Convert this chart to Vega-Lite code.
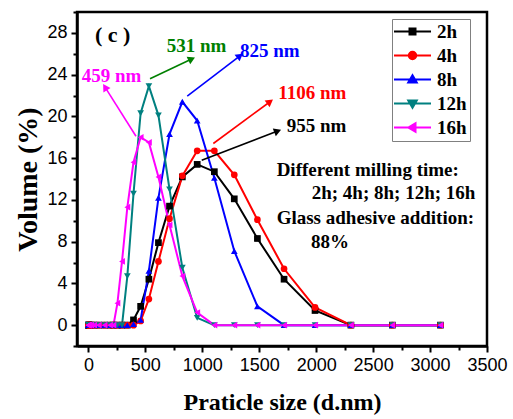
{
  "$schema": "https://vega.github.io/schema/vega-lite/v6.json",
  "width": 410,
  "height": 334,
  "autosize": {"type": "none"},
  "padding": {"left": 77, "top": 12, "right": 26, "bottom": 73},
  "background": "white",
  "config": {
    "view": {"stroke": "black", "strokeWidth": 2.5},
    "axis": {
      "domainColor": "black",
      "domainWidth": 2.5,
      "tickColor": "black",
      "tickWidth": 2,
      "grid": false
    },
    "legend": {
      "strokeColor": "#808080",
      "strokeWidth": 1,
      "fillColor": "white",
      "padding": 3,
      "rowPadding": 4,
      "labelFont": "Liberation Serif",
      "labelFontWeight": "bold",
      "labelFontSize": 19,
      "labelColor": "black",
      "labelLimit": 34,
      "symbolOffset": 8,
      "labelOffset": 15,
      "symbolStrokeWidth": 2,
      "symbolOpacity": 1
    },
    "text": {"font": "Liberation Serif", "fontWeight": "bold"}
  },
  "datasets": {
    "psd": [
      {"series": "2h", "size_nm": 0.4, "volume": 0}, {"series": "2h", "size_nm": 1.117, "volume": 0}, {"series": "2h", "size_nm": 3.122, "volume": 0}, {"series": "2h", "size_nm": 8.721, "volume": 0}, {"series": "2h", "size_nm": 24.36, "volume": 0}, {"series": "2h", "size_nm": 50.75, "volume": 0}, {"series": "2h", "size_nm": 91.28, "volume": 0}, {"series": "2h", "size_nm": 141.8, "volume": 0}, {"series": "2h", "size_nm": 190.1, "volume": 0}, {"series": "2h", "size_nm": 220.2, "volume": 0}, {"series": "2h", "size_nm": 255.0, "volume": 0}, {"series": "2h", "size_nm": 295.3, "volume": 0}, {"series": "2h", "size_nm": 342.0, "volume": 0}, {"series": "2h", "size_nm": 396.1, "volume": 0.5}, {"series": "2h", "size_nm": 458.7, "volume": 1.8}, {"series": "2h", "size_nm": 531.2, "volume": 4.4}, {"series": "2h", "size_nm": 615.1, "volume": 7.9}, {"series": "2h", "size_nm": 712.4, "volume": 11.4}, {"series": "2h", "size_nm": 825.0, "volume": 14.2}, {"series": "2h", "size_nm": 955.4, "volume": 15.4}, {"series": "2h", "size_nm": 1106, "volume": 14.7}, {"series": "2h", "size_nm": 1281, "volume": 12.1}, {"series": "2h", "size_nm": 1484, "volume": 8.3}, {"series": "2h", "size_nm": 1718, "volume": 4.4}, {"series": "2h", "size_nm": 1990, "volume": 1.4}, {"series": "2h", "size_nm": 2305, "volume": 0}, {"series": "2h", "size_nm": 2669, "volume": 0}, {"series": "2h", "size_nm": 3091, "volume": 0},
      {"series": "4h", "size_nm": 0.4, "volume": 0}, {"series": "4h", "size_nm": 1.117, "volume": 0}, {"series": "4h", "size_nm": 3.122, "volume": 0}, {"series": "4h", "size_nm": 8.721, "volume": 0}, {"series": "4h", "size_nm": 24.36, "volume": 0}, {"series": "4h", "size_nm": 50.75, "volume": 0}, {"series": "4h", "size_nm": 91.28, "volume": 0}, {"series": "4h", "size_nm": 141.8, "volume": 0}, {"series": "4h", "size_nm": 190.1, "volume": 0}, {"series": "4h", "size_nm": 220.2, "volume": 0}, {"series": "4h", "size_nm": 255.0, "volume": 0}, {"series": "4h", "size_nm": 295.3, "volume": 0}, {"series": "4h", "size_nm": 342.0, "volume": 0}, {"series": "4h", "size_nm": 396.1, "volume": 0}, {"series": "4h", "size_nm": 458.7, "volume": 0.4}, {"series": "4h", "size_nm": 531.2, "volume": 2.5}, {"series": "4h", "size_nm": 615.1, "volume": 6.1}, {"series": "4h", "size_nm": 712.4, "volume": 10.2}, {"series": "4h", "size_nm": 825.0, "volume": 14.3}, {"series": "4h", "size_nm": 955.4, "volume": 16.7}, {"series": "4h", "size_nm": 1106, "volume": 16.7}, {"series": "4h", "size_nm": 1281, "volume": 14.4}, {"series": "4h", "size_nm": 1484, "volume": 10.1}, {"series": "4h", "size_nm": 1718, "volume": 5.4}, {"series": "4h", "size_nm": 1990, "volume": 1.7}, {"series": "4h", "size_nm": 2305, "volume": 0}, {"series": "4h", "size_nm": 2669, "volume": 0}, {"series": "4h", "size_nm": 3091, "volume": 0},
      {"series": "8h", "size_nm": 0.4, "volume": 0}, {"series": "8h", "size_nm": 1.117, "volume": 0}, {"series": "8h", "size_nm": 3.122, "volume": 0}, {"series": "8h", "size_nm": 8.721, "volume": 0}, {"series": "8h", "size_nm": 24.36, "volume": 0}, {"series": "8h", "size_nm": 50.75, "volume": 0}, {"series": "8h", "size_nm": 91.28, "volume": 0}, {"series": "8h", "size_nm": 141.8, "volume": 0}, {"series": "8h", "size_nm": 190.1, "volume": 0}, {"series": "8h", "size_nm": 220.2, "volume": 0}, {"series": "8h", "size_nm": 255.0, "volume": 0}, {"series": "8h", "size_nm": 295.3, "volume": 0}, {"series": "8h", "size_nm": 342.0, "volume": 0}, {"series": "8h", "size_nm": 396.1, "volume": 0.1}, {"series": "8h", "size_nm": 458.7, "volume": 0.5}, {"series": "8h", "size_nm": 531.2, "volume": 5.2}, {"series": "8h", "size_nm": 615.1, "volume": 12.2}, {"series": "8h", "size_nm": 712.4, "volume": 18.3}, {"series": "8h", "size_nm": 825.0, "volume": 21.4}, {"series": "8h", "size_nm": 955.4, "volume": 19.6}, {"series": "8h", "size_nm": 1106, "volume": 14.1}, {"series": "8h", "size_nm": 1281, "volume": 7.1}, {"series": "8h", "size_nm": 1484, "volume": 1.8}, {"series": "8h", "size_nm": 1718, "volume": 0}, {"series": "8h", "size_nm": 1990, "volume": 0}, {"series": "8h", "size_nm": 2305, "volume": 0}, {"series": "8h", "size_nm": 2669, "volume": 0}, {"series": "8h", "size_nm": 3091, "volume": 0},
      {"series": "12h", "size_nm": 0.4, "volume": 0}, {"series": "12h", "size_nm": 1.117, "volume": 0}, {"series": "12h", "size_nm": 3.122, "volume": 0}, {"series": "12h", "size_nm": 8.721, "volume": 0}, {"series": "12h", "size_nm": 24.36, "volume": 0}, {"series": "12h", "size_nm": 50.75, "volume": 0}, {"series": "12h", "size_nm": 91.28, "volume": 0}, {"series": "12h", "size_nm": 141.8, "volume": 0}, {"series": "12h", "size_nm": 190.1, "volume": 0}, {"series": "12h", "size_nm": 220.2, "volume": 0}, {"series": "12h", "size_nm": 255.0, "volume": 0}, {"series": "12h", "size_nm": 295.3, "volume": 0}, {"series": "12h", "size_nm": 342.0, "volume": 4.7}, {"series": "12h", "size_nm": 396.1, "volume": 12.6}, {"series": "12h", "size_nm": 458.7, "volume": 20.3}, {"series": "12h", "size_nm": 531.2, "volume": 22.9}, {"series": "12h", "size_nm": 615.1, "volume": 20.1}, {"series": "12h", "size_nm": 712.4, "volume": 13.0}, {"series": "12h", "size_nm": 825.0, "volume": 5.5}, {"series": "12h", "size_nm": 955.4, "volume": 0.7}, {"series": "12h", "size_nm": 1106, "volume": 0}, {"series": "12h", "size_nm": 1281, "volume": 0}, {"series": "12h", "size_nm": 1484, "volume": 0}, {"series": "12h", "size_nm": 1718, "volume": 0}, {"series": "12h", "size_nm": 1990, "volume": 0}, {"series": "12h", "size_nm": 2305, "volume": 0}, {"series": "12h", "size_nm": 2669, "volume": 0}, {"series": "12h", "size_nm": 3091, "volume": 0},
      {"series": "16h", "size_nm": 0.4, "volume": 0}, {"series": "16h", "size_nm": 1.117, "volume": 0}, {"series": "16h", "size_nm": 3.122, "volume": 0}, {"series": "16h", "size_nm": 8.721, "volume": 0}, {"series": "16h", "size_nm": 24.36, "volume": 0}, {"series": "16h", "size_nm": 50.75, "volume": 0}, {"series": "16h", "size_nm": 91.28, "volume": 0}, {"series": "16h", "size_nm": 141.8, "volume": 0}, {"series": "16h", "size_nm": 190.1, "volume": 0}, {"series": "16h", "size_nm": 220.2, "volume": 0}, {"series": "16h", "size_nm": 255.0, "volume": 2.1}, {"series": "16h", "size_nm": 295.3, "volume": 6.1}, {"series": "16h", "size_nm": 342.0, "volume": 11.3}, {"series": "16h", "size_nm": 396.1, "volume": 15.6}, {"series": "16h", "size_nm": 458.7, "volume": 18.0}, {"series": "16h", "size_nm": 531.2, "volume": 17.5}, {"series": "16h", "size_nm": 615.1, "volume": 14.2}, {"series": "16h", "size_nm": 712.4, "volume": 9.6}, {"series": "16h", "size_nm": 825.0, "volume": 4.7}, {"series": "16h", "size_nm": 955.4, "volume": 1.2}, {"series": "16h", "size_nm": 1106, "volume": 0}, {"series": "16h", "size_nm": 1281, "volume": 0}, {"series": "16h", "size_nm": 1484, "volume": 0}, {"series": "16h", "size_nm": 1718, "volume": 0}, {"series": "16h", "size_nm": 1990, "volume": 0}, {"series": "16h", "size_nm": 2305, "volume": 0}, {"series": "16h", "size_nm": 2669, "volume": 0}, {"series": "16h", "size_nm": 3091, "volume": 0}
    ],
    "arrows": [
      {"series": "12h", "x": 541, "y": 23.6, "x2": 907, "y2": 25.5},
      {"series": "8h", "x": 868, "y": 21.95, "x2": 1331, "y2": 25.8},
      {"series": "16h", "x": 418, "y": 18.1, "x2": 146, "y2": 22.8},
      {"series": "4h", "x": 1097, "y": 17.4, "x2": 1595, "y2": 21.4},
      {"series": "2h", "x": 995, "y": 15.8, "x2": 1662, "y2": 18.6}
    ],
    "notes": [
      {"series": "12h", "x": 688, "y": 26.7, "note": "531 nm"},
      {"series": "8h", "x": 1331, "y": 26.3, "note": "825 nm"},
      {"series": "16h", "x": -59, "y": 23.9, "note": "459 nm"},
      {"series": "4h", "x": 1667, "y": 22.2, "note": "1106 nm"},
      {"series": "2h", "x": 1741, "y": 19.1, "note": "955 nm"},
      {"series": "all", "x": 1653, "y": 14.86, "note": "Different milling time:"},
      {"series": "all", "x": 1961, "y": 12.7, "note": "2h; 4h; 8h; 12h; 16h"},
      {"series": "all", "x": 1653, "y": 10.23, "note": "Glass adhesive addition:"},
      {"series": "all", "x": 1955, "y": 8.0, "note": "88%"}
    ],
    "panel": [
      {"x": 58, "y": 27.8, "note": "( c )"}
    ]
  },
  "layer": [
    {
      "data": {"name": "psd"},
      "mark": {"type": "line", "strokeWidth": 2},
      "encoding": {
        "x": {
          "field": "size_nm", "type": "quantitative",
          "scale": {"domain": [-100, 3500], "nice": false, "zero": false},
          "axis": {
            "orient": "bottom", "values": [0, 500, 1000, 1500, 2000, 2500, 3000, 3500], "format": "d",
            "labelOverlap": false, "labelFlush": false, "tickSize": 6, "labelPadding": 4,
            "labelFont": "Liberation Sans", "labelFontSize": 18, "labelColor": "black",
            "title": "Praticle size (d.nm)", "titleFont": "Liberation Serif", "titleFontWeight": "bold",
            "titleFontSize": 24, "titleColor": "black", "titlePadding": 16
          }
        },
        "y": {
          "field": "volume", "type": "quantitative",
          "scale": {"domain": [-2, 30], "nice": false, "zero": false},
          "axis": {
            "orient": "left", "values": [0, 4, 8, 12, 16, 20, 24, 28], "format": "d",
            "labelOverlap": false, "labelFlush": false, "tickSize": 6, "labelPadding": 4,
            "labelFont": "Liberation Sans", "labelFontSize": 18, "labelColor": "black",
            "title": "Volume (%)", "titleFont": "Liberation Serif", "titleFontWeight": "bold",
            "titleFontSize": 28, "titleColor": "black", "titlePadding": 4
          }
        },
        "color": {
          "field": "series", "type": "nominal",
          "scale": {"domain": ["2h", "4h", "8h", "12h", "16h"], "range": ["#000000", "#ff0000", "#0000ff", "#008080", "#ff00ff"]},
          "legend": null
        }
      }
    },
    {
      "data": {"name": "psd"},
      "mark": {"type": "point", "filled": true, "size": 45, "opacity": 1},
      "encoding": {
        "x": {
          "field": "size_nm", "type": "quantitative",
          "axis": {"orient": "bottom", "values": [250, 750, 1250, 1750, 2250, 2750, 3250], "tickSize": 4, "labels": false, "domain": false, "title": null}
        },
        "y": {
          "field": "volume", "type": "quantitative",
          "axis": {"orient": "left", "values": [-2, 2, 6, 10, 14, 18, 22, 26, 30], "tickSize": 4, "labels": false, "domain": false, "title": null}
        },
        "color": {"field": "series", "type": "nominal", "legend": null},
        "shape": {
          "field": "series", "type": "nominal",
          "scale": {"domain": ["2h", "4h", "8h", "12h", "16h"], "range": ["square", "circle", "triangle-up", "triangle-down", "triangle-left"]},
          "legend": null
        }
      }
    },
    {
      "data": {"name": "psd"},
      "transform": [{"filter": "datum.size_nm == 3091"}],
      "mark": {"type": "point", "filled": true, "size": 100, "opacity": 0, "strokeWidth": 2},
      "encoding": {
        "x": {"field": "size_nm", "type": "quantitative", "axis": null},
        "y": {"field": "volume", "type": "quantitative", "axis": null},
        "shape": {
          "field": "series", "type": "nominal",
          "scale": {
            "domain": ["2h", "4h", "8h", "12h", "16h"],
            "range": [
              "M-3.7,0H3.7M-0.6,-0.6H0.6V0.6H-0.6Z",
              "M-3.7,0H3.7M0.75,0A0.75,0.75,0,1,1,-0.75,0A0.75,0.75,0,1,1,0.75,0Z",
              "M-3.7,0H3.7M0,-0.85L0.85,0.6H-0.85Z",
              "M-3.7,0H3.7M0,0.85L0.85,-0.6H-0.85Z",
              "M-3.7,0H3.7M-0.85,0L0.6,-0.85V0.85Z"
            ]
          },
          "legend": {"title": null, "orient": "none", "legendX": 315, "legendY": 7}
        },
        "fill": {
          "field": "series", "type": "nominal",
          "scale": {"domain": ["2h", "4h", "8h", "12h", "16h"], "range": ["#000000", "#ff0000", "#0000ff", "#008080", "#ff00ff"]},
          "legend": {"title": null, "orient": "none", "legendX": 315, "legendY": 7}
        },
        "stroke": {
          "field": "series", "type": "nominal",
          "scale": {"domain": ["2h", "4h", "8h", "12h", "16h"], "range": ["#000000", "#ff0000", "#0000ff", "#008080", "#ff00ff"]},
          "legend": {"title": null, "orient": "none", "legendX": 315, "legendY": 7}
        }
      }
    },
    {
      "data": {"name": "arrows"},
      "mark": {"type": "rule", "strokeWidth": 1.6},
      "encoding": {
        "x": {"field": "x", "type": "quantitative", "axis": null},
        "y": {"field": "y", "type": "quantitative", "axis": null},
        "x2": {"field": "x2"},
        "y2": {"field": "y2"},
        "stroke": {
          "field": "series", "type": "nominal",
          "scale": {"domain": ["2h", "4h", "8h", "12h", "16h", "all"], "range": ["#000000", "#ff0000", "#0000ff", "#008000", "#ff00ff", "#000000"]},
          "legend": null
        }
      }
    },
    {
      "data": {"name": "arrows"},
      "transform": [
        {"calculate": "atan2((datum.x2 - datum.x) * 0.11389, (datum.y2 - datum.y) * 10.4375) * 180 / PI", "as": "heading"}
      ],
      "mark": {"type": "point", "shape": "triangle-up", "filled": true, "size": 70, "opacity": 1},
      "encoding": {
        "x": {"field": "x2", "type": "quantitative", "axis": null},
        "y": {"field": "y2", "type": "quantitative", "axis": null},
        "angle": {"field": "heading", "type": "quantitative", "scale": null},
        "fill": {
          "field": "series", "type": "nominal",
          "scale": {"domain": ["2h", "4h", "8h", "12h", "16h", "all"], "range": ["#000000", "#ff0000", "#0000ff", "#008000", "#ff00ff", "#000000"]},
          "legend": null
        }
      }
    },
    {
      "data": {"name": "notes"},
      "mark": {"type": "text", "align": "left", "baseline": "middle", "fontSize": 19, "font": "Liberation Serif", "fontWeight": "bold"},
      "encoding": {
        "x": {"field": "x", "type": "quantitative", "axis": null},
        "y": {"field": "y", "type": "quantitative", "axis": null},
        "text": {"field": "note"},
        "fill": {
          "field": "series", "type": "nominal",
          "scale": {"domain": ["2h", "4h", "8h", "12h", "16h", "all"], "range": ["#000000", "#ff0000", "#0000ff", "#008000", "#ff00ff", "#000000"]},
          "legend": null
        }
      }
    },
    {
      "data": {"name": "panel"},
      "mark": {"type": "text", "align": "left", "baseline": "middle", "fontSize": 22, "font": "Liberation Serif", "fontWeight": "bold", "color": "black"},
      "encoding": {
        "x": {"field": "x", "type": "quantitative", "axis": null},
        "y": {"field": "y", "type": "quantitative", "axis": null},
        "text": {"field": "note"}
      }
    }
  ],
  "resolve": {
    "scale": {"shape": "independent", "fill": "independent", "stroke": "independent"},
    "axis": {"x": "independent", "y": "independent"}
  }
}
